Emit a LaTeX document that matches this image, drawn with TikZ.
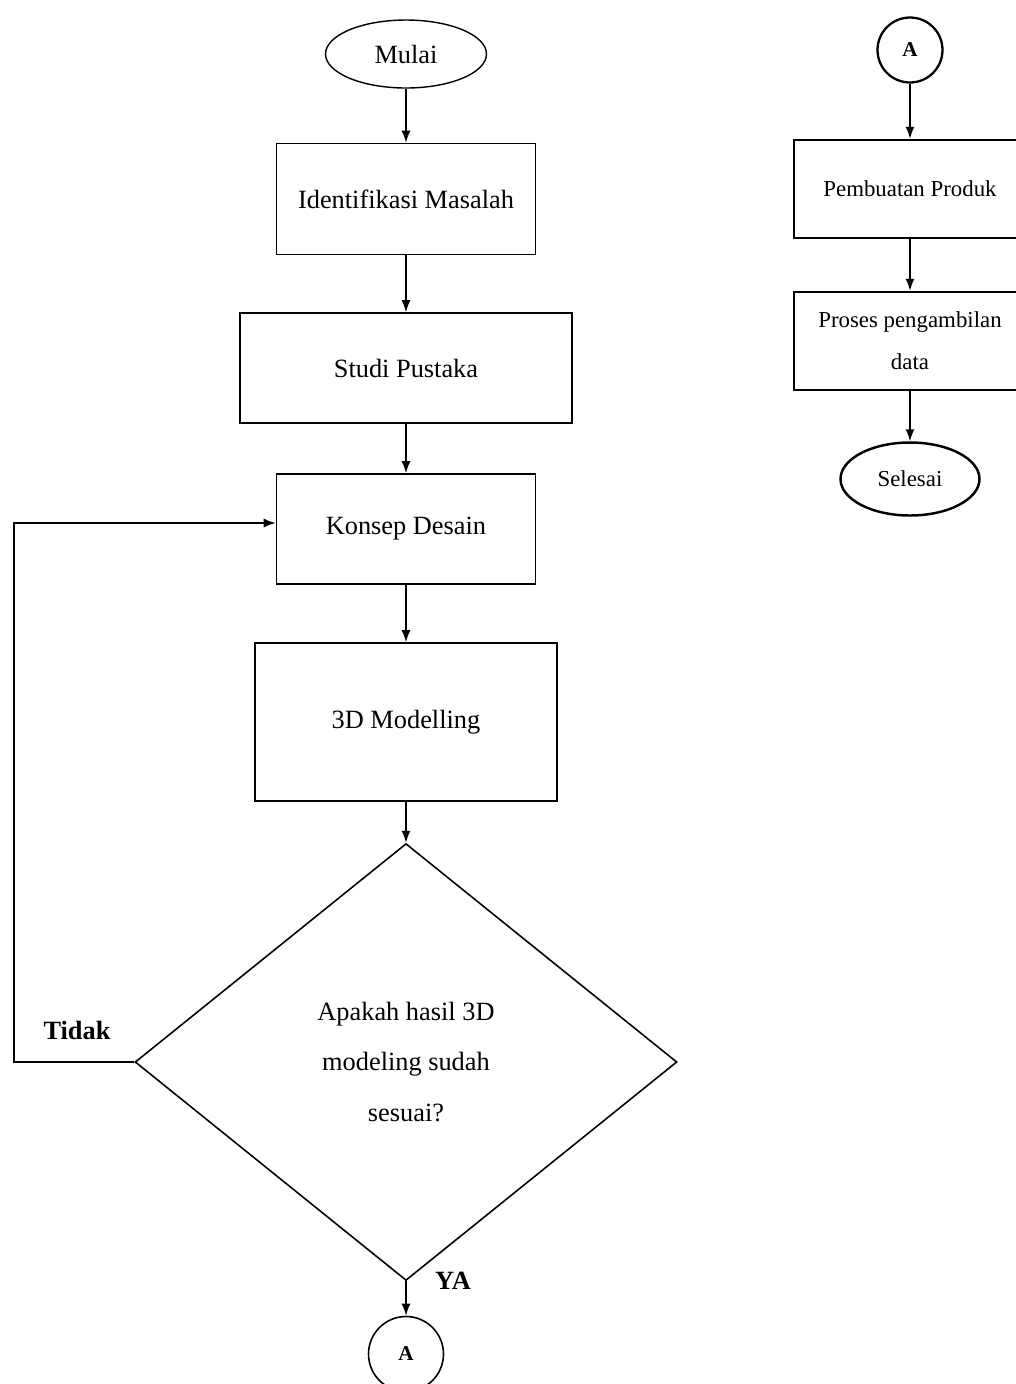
\documentclass[tikz,border=0pt]{standalone}
\usepackage{fontspec}
\setmainfont{Liberation Serif}
\usepackage{tikz}
\usetikzlibrary{arrows.meta,shapes.geometric}
\tikzset{
  flowarrow/.style={-{Latex[length=2.4mm,width=1.8mm]},line width=0.9pt,draw=black},
  procbox/.style={rectangle,draw=black,line width=0.9pt,align=center,
    font=\fontsize{15}{18}\selectfont},
  sidebox/.style={rectangle,draw=black,line width=1.4pt,align=center,
    minimum width=4.64cm,minimum height=1.96cm,font=\fontsize{13}{24}\selectfont},
  terminal/.style={ellipse,draw=black,inner sep=0pt},
  connector/.style={circle,draw=black,line width=0.9pt,inner sep=0pt,
    font=\fontsize{12}{14}\selectfont\bfseries},
  decision/.style={diamond,draw=black,line width=0.9pt,inner sep=0pt,align=center,
    minimum width=10.84cm,minimum height=8.74cm,font=\fontsize{15}{29}\selectfont},
  branchlabel/.style={font=\fontsize{15}{18}\selectfont\bfseries},
}

\begin{document}
\begin{tikzpicture}[x=0.02cm,y=-0.02cm]
    \useasboundingbox (0,0) rectangle (1016,1384);

    % left column
    \node[terminal,line width=0.8pt,minimum width=3.22cm,minimum height=1.36cm,
      font=\fontsize{15}{18}\selectfont] (mulai) at (406,54) {Mulai};
    \node[procbox,minimum width=5.18cm,minimum height=2.22cm] (identifikasi) at (406,199) {Identifikasi Masalah};
    \node[procbox,minimum width=6.64cm,minimum height=2.2cm] (studi) at (406,368) {Studi Pustaka};
    \node[procbox,minimum width=5.18cm,minimum height=2.2cm] (konsep) at (406,529) {Konsep Desain};
    \node[procbox,minimum width=6.04cm,minimum height=3.16cm] (modelling) at (406,722) {3D Modelling};
    \node[decision] (cek) at (406,1062) {Apakah hasil 3D\\modeling sudah\\sesuai?};
    \node[connector,minimum size=1.5cm] (abawah) at (406,1354) {A};

    \draw[flowarrow] (mulai) -- (identifikasi);
    \draw[flowarrow] (identifikasi) -- (studi);
    \draw[flowarrow] (studi) -- (konsep);
    \draw[flowarrow] (konsep) -- (modelling);
    \draw[flowarrow] (modelling.south) -- (cek.north);
    \draw[flowarrow] (cek.south) -- (abawah.north);
    \draw[flowarrow] (cek.west) -- ++(-120,0) |- ([yshift=0.12cm]konsep.west);

    \node[branchlabel] (tidak) at (77,1030) {Tidak};
    \node[branchlabel] (ya) at (453,1281) {YA};

    % right column
    \node[connector,line width=1.3pt,minimum size=1.3cm] (aatas) at (910,50) {A};
    \node[sidebox] (pembuatan) at (910,189) {Pembuatan Produk};
    \node[sidebox] (proses) at (910,341) {Proses pengambilan\\data};
    \node[terminal,line width=1.4pt,minimum width=2.78cm,minimum height=1.46cm,
      font=\fontsize{13}{16}\selectfont] (selesai) at (910,479) {Selesai};

    \draw[flowarrow] (aatas) -- (pembuatan);
    \draw[flowarrow] (pembuatan) -- (proses);
    \draw[flowarrow] (proses) -- (selesai);
\end{tikzpicture}
\end{document}
